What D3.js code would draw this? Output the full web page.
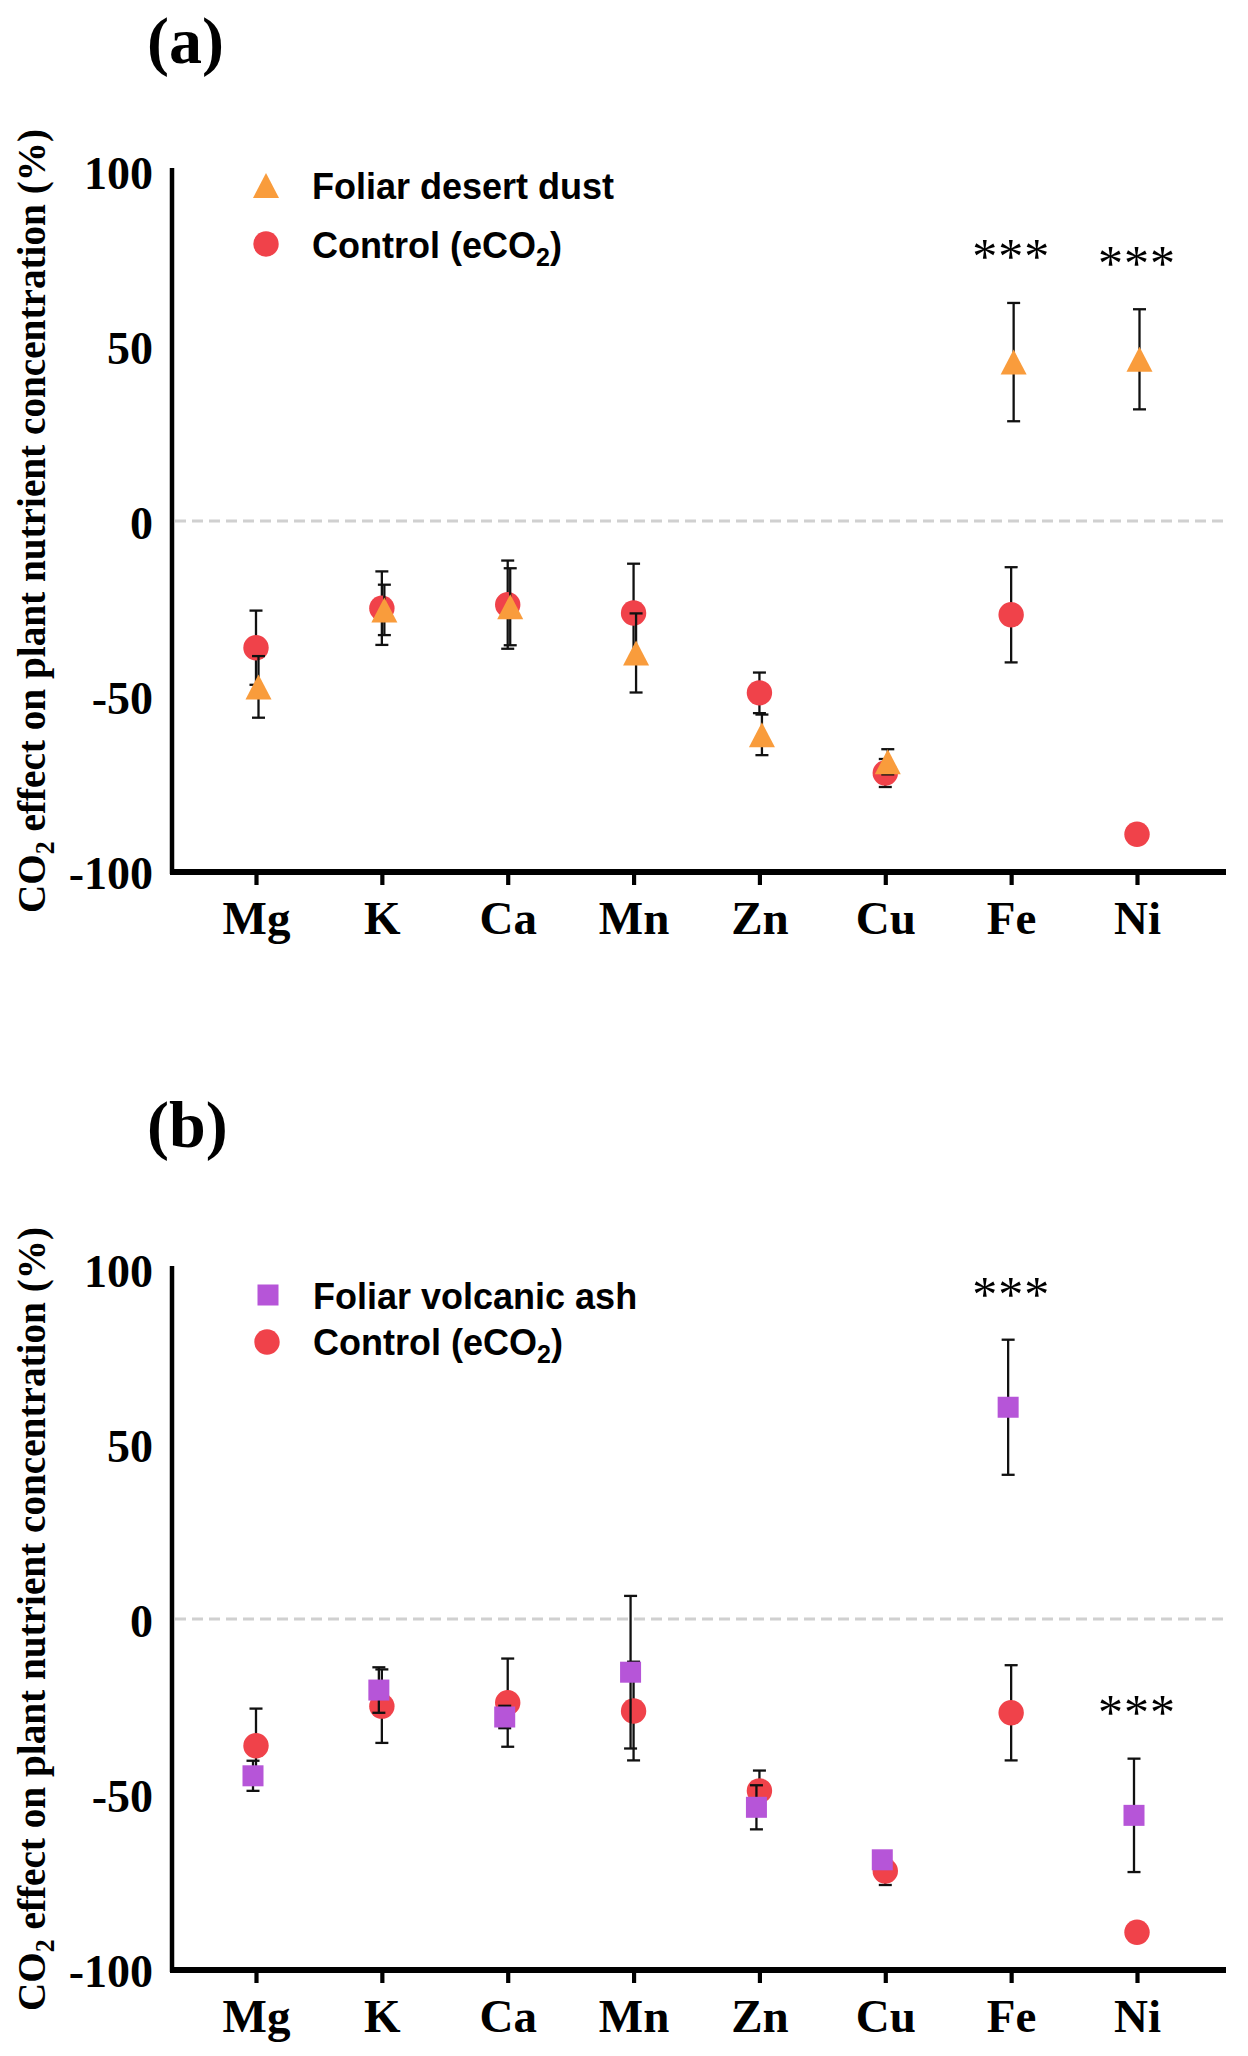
<!DOCTYPE html>
<html>
<head>
<meta charset="utf-8">
<script src="https://cdn.jsdelivr.net/npm/d3@7"></script>
<style>
  html, body { margin: 0; padding: 0; background: #ffffff; }
  svg { display: block; }
</style>
</head>
<body>
<div id="chart"></div>
<script>
// ---------------- DATA ----------------
const categories = ["Mg", "K", "Ca", "Mn", "Zn", "Cu", "Fe", "Ni"];
const yTicks = [-100, -50, 0, 50, 100];

// Control (eCO2) – same in both panels
const controlMean = [-36.2, -24.9, -23.9, -26.3, -49.1, -72.0, -26.8, -89.5];
const controlErr  = [10.6, 10.5, 12.6, 14.1, 5.8, 4.0, 13.6, 1.5];

// Panel (a): Foliar desert dust
const dustMean = [-47.4, -25.4, -24.5, -37.7, -61.1, -68.8, 45.4, 46.2];
const dustErr  = [8.8, 7.2, 11.0, 11.3, 5.8, 3.6, 16.9, 14.3];

// Panel (b): Foliar volcanic ash
const ashMean = [-44.8, -20.3, -28.0, -15.2, -53.8, -68.8, 60.5, -56.1];
const ashErr  = [4.3, 6.5, 3.2, 21.8, 6.3, 1.5, 19.3, 16.2];

// significance marks (category, value position)
const sigCatsA = ["Fe", "Ni"];
const sigValsA = [77.4, 75.4];
const sigCatsB = ["Fe", "Ni"];
const sigValsB = [94.7, -24.9];

const panelLabels = ["(a)", "(b)"];
const treatmentNames = ["Foliar desert dust", "Foliar volcanic ash"];
const controlName = "Control (eCO";
const yTitleMain = " effect on plant nutrient concentration (%)";

// ---------------- STYLE ----------------
const W = 1248, H = 2056;
const serif = "'Liberation Serif', 'Times New Roman', Times, serif";
const sans = "'Liberation Sans', Arial, Helvetica, sans-serif";
const RED = "#F0424A";
const ORANGE = "#F99C3C";
const PURPLE = "#B655D8";

const svg = d3.select("#chart").append("svg")
  .attr("width", W).attr("height", H)
  .attr("viewBox", `0 0 ${W} ${H}`);

const x = d3.scalePoint().domain(categories).range([256, 1137]);

function drawPanel(cfg) {
  const g = svg.append("g");
  const y = d3.scaleLinear().domain([-100, 100]).range([cfg.y0 + 700, cfg.y0]);
  const axisX = 172, axisRight = 1226;
  const bottom = y(-100);

  // panel label
  g.append("text")
    .attr("x", 147).attr("y", cfg.labelY)
    .attr("font-family", serif).attr("font-weight", "bold")
    .attr("font-size", 66)
    .text(cfg.label);

  // zero dashed line
  g.append("line")
    .attr("x1", axisX + 3).attr("x2", axisRight)
    .attr("y1", y(0)).attr("y2", y(0))
    .attr("stroke", "#d0d0d0").attr("stroke-width", 3.2)
    .attr("stroke-dasharray", "11,6");

  // y axis
  const yAxis = d3.axisLeft(y).tickValues(yTicks).tickSize(0).tickPadding(19)
    .tickFormat(d => String(d));
  const ya = g.append("g").attr("transform", `translate(${axisX},0)`).call(yAxis);
  ya.select(".domain").remove();
  ya.selectAll("text")
    .attr("font-family", serif).attr("font-weight", "bold")
    .attr("font-size", 46).attr("fill", "#000")
    .attr("dy", "0.37em");
  g.append("line")
    .attr("x1", axisX).attr("x2", axisX)
    .attr("y1", y(100) - 3).attr("y2", bottom + 3)
    .attr("stroke", "#000").attr("stroke-width", 4.5);

  // x axis
  const xAxis = d3.axisBottom(x).tickSizeInner(14).tickSizeOuter(0).tickPadding(16);
  const xa = g.append("g").attr("transform", `translate(0,${bottom})`).call(xAxis);
  xa.select(".domain").remove();
  xa.selectAll(".tick line").attr("stroke", "#000").attr("stroke-width", 4.2);
  xa.selectAll("text")
    .attr("font-family", serif).attr("font-weight", "bold")
    .attr("font-size", 47).attr("fill", "#000")
    .attr("dy", "0.71em");
  g.append("line")
    .attr("x1", axisX - 2).attr("x2", axisRight)
    .attr("y1", bottom + 1).attr("y2", bottom + 1)
    .attr("stroke", "#000").attr("stroke-width", 6);

  // y axis title
  const cy = y(0);
  const t = g.append("text")
    .attr("transform", `translate(45,${cy}) rotate(-90)`)
    .attr("text-anchor", "middle")
    .attr("font-family", serif).attr("font-weight", "bold")
    .attr("font-size", 41)
    .attr("textLength", 784).attr("lengthAdjust", "spacingAndGlyphs");
  t.append("tspan").text("CO");
  t.append("tspan").attr("font-size", 27).attr("dy", 9).text("2");
  t.append("tspan").attr("dy", -9).text(yTitleMain);

  // data rows
  const rows = categories.map((c, i) => ({
    cat: c, cm: controlMean[i], ce: controlErr[i],
    tm: cfg.tMean[i], te: cfg.tErr[i]
  }));

  function errBars(sel, getM, getE, dx) {
    const eg = sel.append("g").attr("stroke", "#111").attr("stroke-width", 2.3).attr("fill", "none");
    rows.forEach(r => {
      const cx = x(r.cat) + dx;
      const m = getM(r), e = getE(r);
      eg.append("line").attr("x1", cx).attr("x2", cx).attr("y1", y(m + e)).attr("y2", y(m - e));
      eg.append("line").attr("x1", cx - 6.5).attr("x2", cx + 6.5).attr("y1", y(m + e)).attr("y2", y(m + e));
      eg.append("line").attr("x1", cx - 6.5).attr("x2", cx + 6.5).attr("y1", y(m - e)).attr("y2", y(m - e));
    });
  }

  // control
  errBars(g, r => r.cm, r => r.ce, 0);
  g.append("g").selectAll("circle").data(rows).join("circle")
    .attr("cx", d => x(d.cat)).attr("cy", d => y(d.cm))
    .attr("r", 12.7).attr("fill", RED);

  // treatment
  errBars(g, r => r.tm, r => r.te, cfg.dx);
  const tg = g.append("g");
  rows.forEach(r => {
    const cx = x(r.cat) + cfg.dx, cyy = y(r.tm);
    if (cfg.shape === "triangle") {
      tg.append("path")
        .attr("d", `M${cx},${cyy - 12.5}L${cx + 13},${cyy + 12.5}L${cx - 13},${cyy + 12.5}Z`)
        .attr("fill", ORANGE);
    } else {
      tg.append("rect")
        .attr("x", cx - 10.5).attr("y", cyy - 10.5)
        .attr("width", 21).attr("height", 21)
        .attr("fill", PURPLE);
    }
  });

  // significance
  cfg.sigCats.forEach((c, i) => {
    g.append("text")
      .attr("x", x(c)).attr("y", y(cfg.sigVals[i]) + 23)
      .attr("text-anchor", "middle")
      .attr("font-family", serif).attr("font-size", 50)
      .attr("letter-spacing", 1)
      .text("***");
  });

  // legend
  const L = cfg.legend;
  if (cfg.shape === "triangle") {
    g.append("path")
      .attr("d", `M${L.sx},${L.sy - 12.5}L${L.sx + 13},${L.sy + 12.5}L${L.sx - 13},${L.sy + 12.5}Z`)
      .attr("fill", ORANGE);
  } else {
    g.append("rect").attr("x", L.sx - 10.5).attr("y", L.sy - 10.5)
      .attr("width", 21).attr("height", 21).attr("fill", PURPLE);
  }
  g.append("circle").attr("cx", L.cx).attr("cy", L.cy).attr("r", 12.7).attr("fill", RED);
  g.append("text").attr("x", L.tx).attr("y", L.t1)
    .attr("font-family", sans).attr("font-weight", "bold").attr("font-size", 36)
    .text(cfg.name);
  const ct = g.append("text").attr("x", L.tx).attr("y", L.t2)
    .attr("font-family", sans).attr("font-weight", "bold").attr("font-size", 36);
  ct.append("tspan").text(controlName);
  ct.append("tspan").attr("font-size", 25).attr("dy", 8).text("2");
  ct.append("tspan").attr("dy", -8).text(")");
}

drawPanel({
  y0: 171, label: panelLabels[0], labelY: 63,
  tMean: dustMean, tErr: dustErr, shape: "triangle", dx: 2.5,
  name: treatmentNames[0], sigCats: sigCatsA, sigVals: sigValsA,
  legend: { sx: 266, sy: 185.5, cx: 266, cy: 244, tx: 312, t1: 199, t2: 258 }
});

drawPanel({
  y0: 1269, label: panelLabels[1], labelY: 1147,
  tMean: ashMean, tErr: ashErr, shape: "square", dx: -3,
  name: treatmentNames[1], sigCats: sigCatsB, sigVals: sigValsB,
  legend: { sx: 268, sy: 1295, cx: 267, cy: 1342, tx: 313, t1: 1309, t2: 1355 }
});
</script>
</body>
</html>
